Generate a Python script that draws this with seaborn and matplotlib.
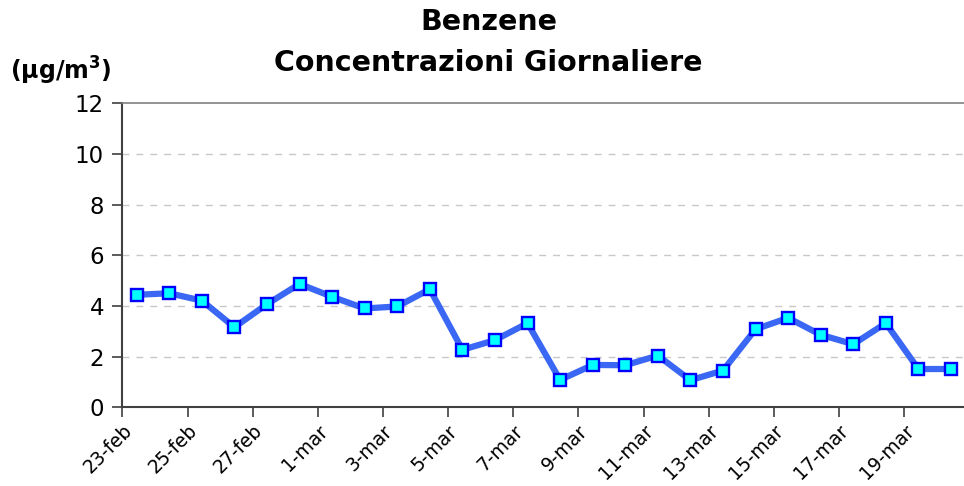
import numpy as np
import pandas as pd
import seaborn as sns
import matplotlib.pyplot as plt

# daily benzene concentrations, 23 feb -> 20 mar
giorni = ['23-feb', '24-feb', '25-feb', '26-feb', '27-feb', '28-feb',
          '1-mar', '2-mar', '3-mar', '4-mar', '5-mar', '6-mar', '7-mar',
          '8-mar', '9-mar', '10-mar', '11-mar', '12-mar', '13-mar', '14-mar',
          '15-mar', '16-mar', '17-mar', '18-mar', '19-mar', '20-mar']
benzene = [4.44, 4.50, 4.21, 3.16, 4.07, 4.87, 4.36, 3.90, 3.98, 4.66,
           2.27, 2.65, 3.32, 1.08, 1.67, 1.66, 2.04, 1.07, 1.45, 3.08,
           3.53, 2.86, 2.49, 3.32, 1.51, 1.51]
tick_labels = giorni[::2]
y_ticks = [0, 2, 4, 6, 8, 10, 12]

df = pd.DataFrame({'giorno': np.arange(len(giorni)), 'valore': benzene})

sns.set_style('white')
plt.rcParams['font.family'] = ['DejaVu Sans']
plt.rcParams['text.color'] = 'black'
plt.rcParams['xtick.color'] = 'black'
plt.rcParams['ytick.color'] = 'black'

fig = plt.figure(figsize=(9.64, 4.86), dpi=100)
ax = fig.add_axes([0.1266, 0.162, 0.8734, 0.6255])

sns.lineplot(data=df, x='giorno', y='valore', ax=ax, color='#3a68f4',
             linewidth=4.5, marker='s', markersize=9,
             markerfacecolor='#00ffff', markeredgecolor='#0000ff',
             markeredgewidth=1.7)

ax.set_ylim(0, 12)
ax.set_xlim(-0.45, 25.4)
ax.set_yticks(y_ticks)
ax.set_yticklabels([str(v) for v in y_ticks], fontsize=16.5)
ax.set_xticks(np.arange(0, len(giorni), 2) - 0.44)
ax.set_xticklabels(tick_labels, rotation=45, ha='right', va='top',
                   rotation_mode='anchor', fontsize=13.5)
ax.set_xlabel('')
ax.set_ylabel('')

for v in y_ticks[1:-1]:
    ax.axhline(v, color='#c8c8c8', linestyle=(0, (5, 5)), linewidth=1, zorder=0)

for s in ['left', 'bottom']:
    ax.spines[s].set_color('#404040')
    ax.spines[s].set_linewidth(1.5)
ax.spines['top'].set_color('#808080')
ax.spines['top'].set_linewidth(1.2)
ax.spines['right'].set_visible(False)

ax.tick_params(axis='both', direction='out', length=7, width=1.2,
               color='#404040', left=True, bottom=True)
ax.tick_params(axis='y', pad=6)
ax.tick_params(axis='x', pad=3)

fig.text(0.507, 0.955, 'Benzene', ha='center', va='center',
         fontsize=20.5, fontweight='bold')
fig.text(0.507, 0.870, 'Concentrazioni Giornaliere', ha='center',
         va='center', fontsize=20.5, fontweight='bold')
fig.text(0.010, 0.855, '(µg/m$^\\mathbf{3}$)', ha='left', va='center',
         fontsize=17, fontweight='bold')

fig.savefig('out.png', dpi=100)
